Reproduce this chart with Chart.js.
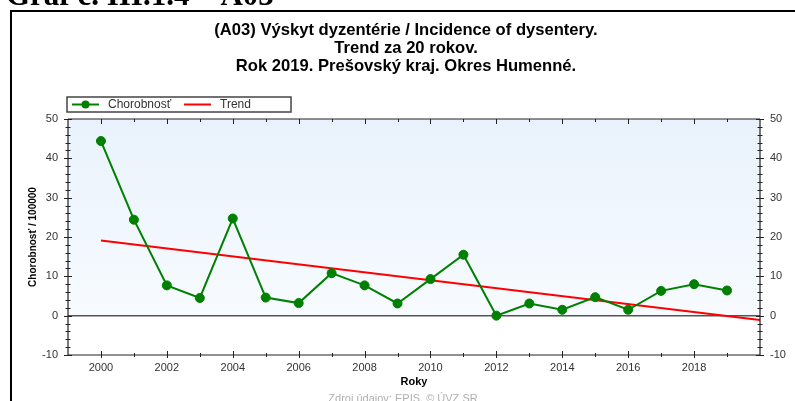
<!DOCTYPE html>
<html>
<head>
<meta charset="utf-8">
<script src="https://cdn.jsdelivr.net/npm/chart.js@4"></script>
<style>
  html, body { margin: 0; padding: 0; background: #fff; }
  #wrap { position: relative; width: 795px; height: 401px; overflow: hidden; }
  canvas { display: block; }
</style>
</head>
<body>
<div id="wrap"><canvas id="c" width="795" height="401"></canvas></div>
<script>
// ---- data ----
const years = [2000, 2001, 2002, 2003, 2004, 2005, 2006, 2007, 2008, 2009,
               2010, 2011, 2012, 2013, 2014, 2015, 2016, 2017, 2018, 2019];
const incidence = [44.4, 24.4, 7.7, 4.5, 24.7, 4.6, 3.2, 10.8, 7.7, 3.1,
                   9.3, 15.5, 0.0, 3.1, 1.5, 4.7, 1.5, 6.3, 8.0, 6.4];
const trendYears = [2000, 2020];
const trendValues = [19.1, -1.1];
const xLabelYears = [2000, 2002, 2004, 2006, 2008, 2010, 2012, 2014, 2016, 2018];
const yTickValues = [-10, 0, 10, 20, 30, 40, 50];
const titleLines = ['(A03) Výskyt dyzentérie / Incidence of dysentery.',
                    'Trend za 20 rokov.',
                    'Rok 2019. Prešovský kraj. Okres Humenné.'];
const headerText = 'Graf č. III.1.4 – A03';
const sourceText = 'Zdroj údajov: EPIS, © ÚVZ SR';
const seriesLabels = ['Chorobnosť', 'Trend'];
const yTitle = 'Chorobnosť / 100000';
const xTitle = 'Roky';

const SANS = 'Arial, "Liberation Sans", sans-serif';

const decor = {
  id: 'decor',
  beforeDraw(chart) {
    const ctx = chart.ctx;
    ctx.save();
    ctx.fillStyle = '#fff';
    ctx.fillRect(0, 0, chart.width, chart.height);
    // header (cut at top)
    ctx.fillStyle = '#000';
    ctx.font = 'bold 31px "Liberation Serif", "Times New Roman", serif';
    ctx.textBaseline = 'alphabetic';
    ctx.textAlign = 'left';
    ctx.fillText(headerText, 6, 5);
    // frame
    ctx.strokeStyle = '#000';
    ctx.lineWidth = 2;
    ctx.beginPath();
    ctx.moveTo(11, chart.height + 2);
    ctx.lineTo(11, 11);
    ctx.lineTo(chart.width + 2, 11);
    ctx.stroke();
    ctx.restore();
  },
  beforeDatasetsDraw(chart) {
    const ctx = chart.ctx;
    const a = chart.chartArea;
    const ys = chart.scales.y;
    const y0 = ys.getPixelForValue(0);
    ctx.save();
    const g = ctx.createLinearGradient(0, a.top, 0, y0);
    g.addColorStop(0, 'rgb(233,242,252)');
    g.addColorStop(1, 'rgb(247,251,255)');
    ctx.fillStyle = g;
    ctx.fillRect(a.left, a.top, a.right - a.left, y0 - a.top);
    ctx.fillStyle = '#fff';
    ctx.fillRect(a.left, y0, a.right - a.left, a.bottom - y0);
    // zero line
    ctx.strokeStyle = '#555';
    ctx.lineWidth = 1.5;
    ctx.beginPath();
    ctx.moveTo(a.left, y0);
    ctx.lineTo(a.right, y0);
    ctx.stroke();
    ctx.restore();
  },
  afterDatasetsDraw(chart) {
    const ctx = chart.ctx;
    const a = chart.chartArea;
    const xs = chart.scales.x;
    const ys = chart.scales.y;
    ctx.save();
    ctx.strokeStyle = '#222';
    ctx.lineWidth = 1.2;
    ctx.beginPath();
    ctx.moveTo(a.left, a.top); ctx.lineTo(a.right, a.top);
    ctx.moveTo(a.left, a.bottom); ctx.lineTo(a.right, a.bottom);
    ctx.moveTo(a.left, a.top); ctx.lineTo(a.left, a.bottom);
    ctx.moveTo(a.right, a.top); ctx.lineTo(a.right, a.bottom);
    ctx.stroke();
    ctx.lineWidth = 1;
    ctx.beginPath();
    // y ticks (major every 10, minor every 2)
    for (let v = ys.min; v <= ys.max; v += 2) {
      const p = Math.round(ys.getPixelForValue(v)) + 0.5;
      const len = (v % 10 === 0) ? 4 : 2.5;
      ctx.moveTo(a.left - len, p); ctx.lineTo(a.left + len, p);
      ctx.moveTo(a.right - len, p); ctx.lineTo(a.right + len, p);
    }
    // x ticks
    years.forEach(yr => {
      const p = Math.round(xs.getPixelForValue(yr)) + 0.5;
      const major = yr % 2 === 0;
      ctx.moveTo(p, a.bottom - (major ? 4 : 2)); ctx.lineTo(p, a.bottom + (major ? 3 : 2));
      ctx.moveTo(p, a.top); ctx.lineTo(p, a.top + (major ? 5 : 3));
    });
    ctx.stroke();
    ctx.restore();
  },
  afterDraw(chart) {
    const ctx = chart.ctx;
    ctx.save();
    // legend
    const lx = 67, ly = 97, lw = 224, lh = 15;
    ctx.strokeStyle = '#444';
    ctx.lineWidth = 1.5;
    ctx.strokeRect(lx, ly, lw, lh);
    const ds = chart.data.datasets;
    const my = ly + lh / 2;
    ctx.font = '12px ' + SANS;
    ctx.textBaseline = 'middle';
    ctx.textAlign = 'left';
    // entry 1
    ctx.strokeStyle = ds[0].borderColor;
    ctx.lineWidth = 2;
    ctx.beginPath(); ctx.moveTo(72, my); ctx.lineTo(99, my); ctx.stroke();
    ctx.fillStyle = ds[0].backgroundColor;
    ctx.beginPath(); ctx.arc(85.5, my, 4, 0, Math.PI * 2); ctx.fill();
    ctx.fillStyle = '#333';
    ctx.fillText(ds[0].label, 108, my + 0.5);
    // entry 2
    ctx.strokeStyle = ds[1].borderColor;
    ctx.beginPath(); ctx.moveTo(184, my); ctx.lineTo(211, my); ctx.stroke();
    ctx.fillStyle = '#333';
    ctx.fillText(ds[1].label, 220, my + 0.5);
    // source
    ctx.fillStyle = '#b0b0b0';
    ctx.font = '11px ' + SANS;
    ctx.textAlign = 'center';
    ctx.fillText(sourceText, 403, 399);
    ctx.restore();
  }
};

new Chart(document.getElementById('c'), {
  type: 'line',
  data: {
    datasets: [
      {
        label: seriesLabels[0],
        data: years.map((x, i) => ({ x: x, y: incidence[i] })),
        borderColor: '#008000',
        backgroundColor: '#008000',
        borderWidth: 2,
        pointRadius: 4.5,
        pointBorderWidth: 1,
        pointBorderColor: '#008000',
        pointBackgroundColor: '#008000',
        tension: 0,
        fill: false
      },
      {
        label: seriesLabels[1],
        data: trendYears.map((x, i) => ({ x: x, y: trendValues[i] })),
        borderColor: '#ff0000',
        backgroundColor: '#ff0000',
        borderWidth: 2,
        pointRadius: 0,
        tension: 0,
        fill: false
      }
    ]
  },
  options: {
    responsive: false,
    animation: false,
    clip: false,
    layout: { padding: { left: 17, right: 0, top: 0, bottom: 12 } },
    plugins: {
      legend: { display: false },
      tooltip: { enabled: false },
      title: {
        display: true,
        text: titleLines,
        color: '#000',
        font: { family: SANS, size: 16.6, weight: 'bold', lineHeight: '18px' },
        padding: { top: 21, bottom: 44 }
      }
    },
    scales: {
      x: {
        type: 'linear',
        position: 'bottom',
        min: 1999,
        max: 2020,
        grid: { display: false, drawTicks: false },
        border: { display: false },
        ticks: {
          stepSize: 1,
          autoSkip: false,
          maxRotation: 0,
          padding: 6,
          color: '#333',
          font: { family: SANS, size: 11 },
          callback: v => xLabelYears.includes(v) ? String(v) : ''
        },
        title: {
          display: true,
          text: xTitle,
          color: '#000',
          font: { family: SANS, size: 11, weight: 'bold', lineHeight: 1.2 },
          padding: { top: 0, bottom: 0 }
        },
        afterFit: s => { s.height = 34; }
      },
      y: {
        position: 'left',
        min: -10,
        max: 50,
        grid: { display: false, drawTicks: false },
        border: { display: false },
        ticks: {
          stepSize: 10,
          padding: 10,
          color: '#333',
          font: { family: SANS, size: 11 },
          callback: v => yTickValues.includes(v) ? String(v) : ''
        },
        title: {
          display: true,
          text: yTitle,
          color: '#000',
          font: { family: SANS, size: 10, weight: 'bold', lineHeight: 1.2 },
          padding: { top: 10, bottom: 0 }
        },
        afterFit: s => { s.width = 51; }
      },
      y2: {
        position: 'right',
        min: -10,
        max: 50,
        grid: { display: false, drawTicks: false },
        border: { display: false },
        ticks: {
          stepSize: 10,
          padding: 10,
          color: '#333',
          font: { family: SANS, size: 11 },
          callback: v => yTickValues.includes(v) ? String(v) : ''
        },
        afterFit: s => { s.width = 35; }
      }
    }
  },
  plugins: [decor]
});
</script>
</body>
</html>
